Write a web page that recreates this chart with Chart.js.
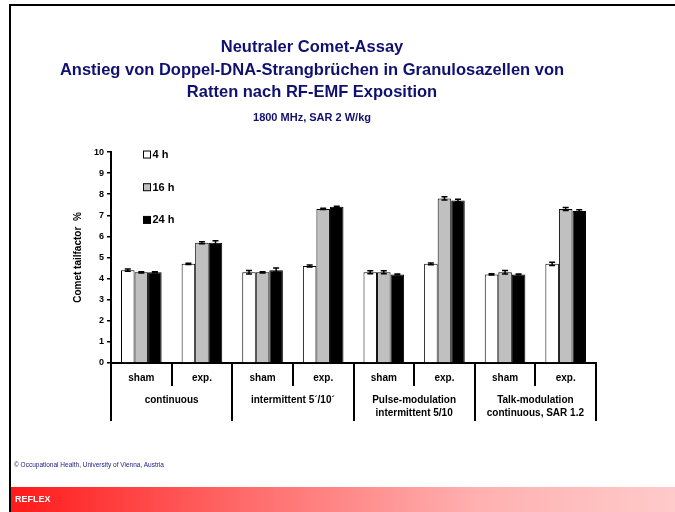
<!DOCTYPE html>
<html>
<head>
<meta charset="utf-8">
<script src="https://cdn.jsdelivr.net/npm/chart.js@4.4.1/dist/chart.umd.min.js"></script>
<style>
  body { margin: 0; background: #fff; font-family: "Liberation Sans", Arial, sans-serif; }
  #wrap { position: relative; width: 675px; height: 512px; overflow: hidden; }
  #chartBox { position: absolute; left: 0; top: 0; width: 624px; height: 486px; }
  #topLine { position: absolute; left: 10px; top: 4px; width: 665px; height: 2px; background: #000; }
  #leftLine { position: absolute; left: 9px; top: 4px; width: 2px; height: 508px; background: #000; }
  #copy { position: absolute; left: 14px; top: 461px; font-size: 6.5px; color: #1a1a80; }
  #footer { position: absolute; left: 11px; top: 487px; width: 664px; height: 25px;
            background: linear-gradient(to right, #ff1a1a 0%, #ff6a6a 35%, #ffb0b0 70%, #ffcaca 100%); }
  #footer span { position: absolute; left: 4px; top: 7px; color: #fff; font-weight: bold; font-size: 9px; }
</style>
</head>
<body>
<div id="wrap">
  <div id="chartBox"><canvas id="graph" width="624" height="486"></canvas></div>
  <div id="topLine"></div>
  <div id="leftLine"></div>
  <div id="copy">© Occupational Health, University of Vienna, Austria</div>
  <div id="footer"><span>REFLEX</span></div>
</div>
<script>
// data
var subLabels = ['sham', 'exp.', 'sham', 'exp.', 'sham', 'exp.', 'sham', 'exp.'];
var groupLabels = [['continuous'], ['intermittent 5´/10´'], ['Pulse-modulation', 'intermittent 5/10'], ['Talk-modulation', 'continuous, SAR 1.2']];
var yTicks = [0, 1, 2, 3, 4, 5, 6, 7, 8, 9, 10];

var values4h  = [4.4, 4.7, 4.3, 4.6, 4.3, 4.7, 4.2, 4.7];
var values16h = [4.3, 5.7, 4.3, 7.3, 4.3, 7.8, 4.3, 7.3];
var values24h = [4.3, 5.7, 4.4, 7.4, 4.2, 7.7, 4.2, 7.2];

var err4h  = [0.05, 0.03, 0.08, 0.05, 0.07, 0.04, 0.03, 0.08];
var err16h = [0.03, 0.05, 0.03, 0.03, 0.07, 0.08, 0.08, 0.07];
var err24h = [0.02, 0.1, 0.1, 0.03, 0.02, 0.06, 0.02, 0.06];

var titleColor = '#101070';

// error bars, drawn from the y scale
var errorBars = {
    id: 'errorBars',
    afterDatasetsDraw: function(chart) {
        var ctx = chart.ctx;
        var y = chart.scales.y;
        ctx.save();
        ctx.strokeStyle = '#000';
        ctx.lineWidth = 1.5;
        chart.data.datasets.forEach(function(ds, di) {
            var meta = chart.getDatasetMeta(di);
            meta.data.forEach(function(bar, i) {
                var top = y.getPixelForValue(ds.data[i] + ds.errors[i]);
                var bot = y.getPixelForValue(ds.data[i] - ds.errors[i]);
                ctx.beginPath();
                ctx.moveTo(bar.x, top); ctx.lineTo(bar.x, bot);
                ctx.moveTo(bar.x - 3, top); ctx.lineTo(bar.x + 3, top);
                ctx.moveTo(bar.x - 3, bot); ctx.lineTo(bar.x + 3, bot);
                ctx.stroke();
            });
        });
        ctx.restore();
    }
};

// separator lines under the x axis
var separators = {
    id: 'separators',
    afterDraw: function(chart) {
        var ctx = chart.ctx;
        var x = chart.scales.x;
        var n = subLabels.length;
        var w = (x.right - x.left) / n;
        var y0 = chart.chartArea.bottom;
        ctx.save();
        ctx.strokeStyle = '#000';
        ctx.lineWidth = 2;
        for (var i = 0; i <= n; i++) {
            var px = Math.round(x.left + i * w);
            ctx.beginPath();
            ctx.moveTo(px, y0);
            ctx.lineTo(px, y0 + (i % 2 == 0 ? 58 : 23));
            ctx.stroke();
        }
        ctx.restore();
    }
};

// legend inside the plot, stacked
var innerLegend = {
    id: 'innerLegend',
    afterDraw: function(chart) {
        var ctx = chart.ctx;
        var a = chart.chartArea;
        ctx.save();
        ctx.font = 'bold 11px "Liberation Sans", Arial, sans-serif';
        ctx.textBaseline = 'middle';
        chart.data.datasets.forEach(function(ds, i) {
            var bx = a.left + 32.5, by = a.top + 2.5 + i * 32.7;
            ctx.fillStyle = ds.backgroundColor;
            ctx.fillRect(bx, by - 3.5, 7, 7);
            ctx.strokeStyle = '#000';
            ctx.lineWidth = 1;
            ctx.strokeRect(bx, by - 3.5, 7, 7);
            ctx.fillStyle = '#000';
            ctx.fillText(ds.label, bx + 9, by + 0.5);
        });
        ctx.restore();
    }
};

var ctx = document.getElementById('graph');
new Chart(ctx, {
    type: 'bar',
    data: {
        labels: subLabels,
        datasets: [
            { label: '4 h', data: values4h, errors: err4h, backgroundColor: '#ffffff', borderColor: '#000', borderWidth: 1 },
            { label: '16 h', data: values16h, errors: err16h, backgroundColor: '#c0c0c0', borderColor: '#000', borderWidth: 1 },
            { label: '24 h', data: values24h, errors: err24h, backgroundColor: '#000000', borderColor: '#000', borderWidth: 1 }
        ]
    },
    plugins: [errorBars, separators, innerLegend],
    options: {
        responsive: false,
        animation: false,
        devicePixelRatio: 1,
        categoryPercentage: 0.67,
        barPercentage: 1.0,
        layout: { padding: { top: 22, right: 28, bottom: 58, left: 28 } },
        plugins: {
            legend: { display: false },
            tooltip: { enabled: false },
            title: {
                display: true,
                text: ['Neutraler Comet-Assay', 'Anstieg von Doppel-DNA-Strangbrüchen in Granulosazellen von', 'Ratten nach RF-EMF Exposition'],
                color: titleColor,
                font: { family: '"Liberation Sans", Arial, sans-serif', size: 16.5, weight: 'bold', lineHeight: 1.36 },
                padding: { top: 14.5, bottom: 4 }
            },
            subtitle: {
                display: true,
                text: '1800 MHz, SAR 2 W/kg',
                color: titleColor,
                font: { family: '"Liberation Sans", Arial, sans-serif', size: 11, weight: 'bold', lineHeight: 1.2 },
                padding: { top: 4, bottom: 27 }
            }
        },
        scales: {
            x: {
                position: 'bottom',
                weight: 0,
                grid: { display: false, drawTicks: false },
                border: { display: true, color: '#000', width: 2 },
                ticks: {
                    color: '#000', autoSkip: false, maxRotation: 0, padding: 9,
                    font: { family: '"Liberation Sans", Arial, sans-serif', size: 10, weight: 'bold' }
                },
                afterFit: function(s) { s.height = 25; }
            },
            x2: {
                type: 'category',
                position: 'bottom',
                weight: 1,
                labels: groupLabels,
                grid: { display: false, drawTicks: false },
                border: { display: false },
                ticks: {
                    color: '#000', autoSkip: false, maxRotation: 0, padding: 6,
                    font: { family: '"Liberation Sans", Arial, sans-serif', size: 10, weight: 'bold', lineHeight: 1.26 }
                },
                afterFit: function(s) { s.height = 40; }
            },
            y: {
                min: 0,
                max: 10,
                afterBuildTicks: function(s) { s.ticks = yTicks.map(function(v) { return { value: v }; }); },
                grid: { drawOnChartArea: false, drawTicks: true, tickLength: 4, color: '#000', lineWidth: 1.5 },
                border: { display: true, color: '#000', width: 2 },
                ticks: {
                    color: '#000', padding: 3,
                    font: { family: '"Liberation Sans", Arial, sans-serif', size: 9, weight: 'bold' }
                },
                title: {
                    display: true,
                    text: 'Comet tailfactor  %',
                    color: '#000',
                    font: { family: '"Liberation Sans", Arial, sans-serif', size: 10, weight: 'bold' },
                    padding: { top: 44, bottom: 0 }
                },
                afterFit: function(s) { s.width = 83; }
            }
        }
    }
});
</script>
</body>
</html>
